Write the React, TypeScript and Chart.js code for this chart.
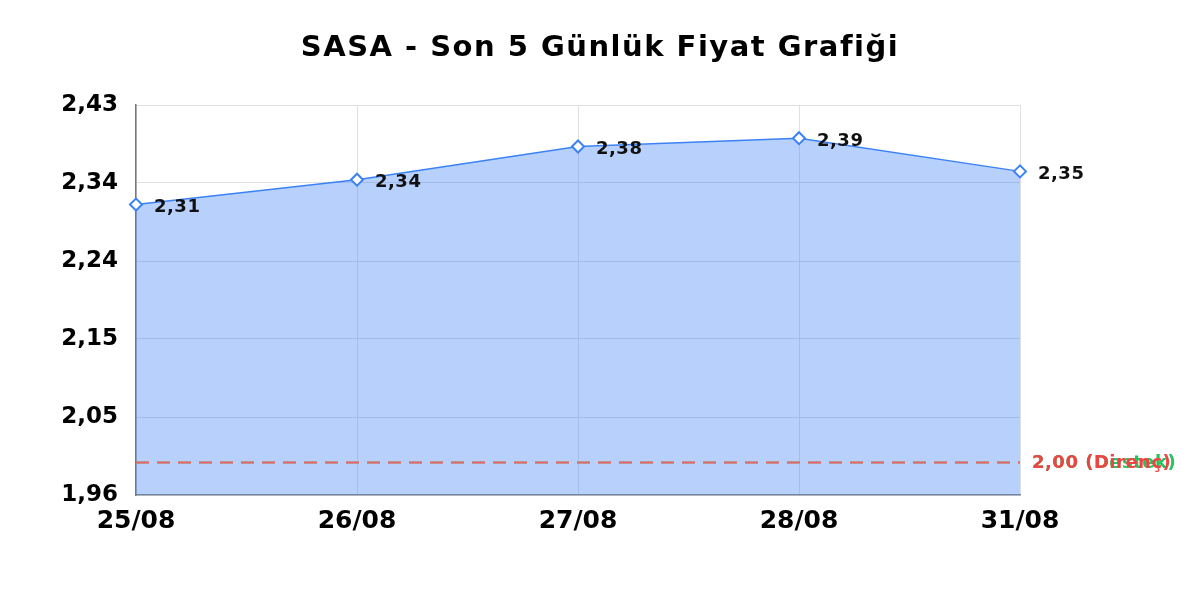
import React, { useRef, useEffect } from 'react';
import { Chart, registerables } from 'chart.js';

Chart.register(...registerables);

// Data
const labels = ['25/08', '26/08', '27/08', '28/08', '31/08'];
const prices = [2.31, 2.34, 2.38, 2.39, 2.35];
const supportLevel = 2.0;
const resistanceLevel = 2.0;
const yMin = 1.96;
const yMax = 2.43;
const titleText = 'SASA - Son 5 Günlük Fiyat Grafiği';

const fmt = (v: number) => v.toFixed(2).replace('.', ',');

const levels = [
    { value: supportLevel, color: '#22c55e', line: '#4cc47a', text: fmt(supportLevel) + ' (Destek)' },
    { value: resistanceLevel, color: '#ef4444', line: '#f0626a', text: fmt(resistanceLevel) + ' (Direnç)' },
];

// title drawn by hand so it can be centred on the whole canvas
const titlePlugin = {
    id: 'titlePlugin',
    afterDraw(chart: any) {
        const { ctx } = chart;
        ctx.save();
        ctx.font = 'bold 29px "DejaVu Sans"';
        (ctx as any).letterSpacing = '1.5px';
        ctx.fillStyle = '#000';
        ctx.textAlign = 'center';
        ctx.textBaseline = 'middle';
        ctx.fillText(titleText, chart.width / 2, 48);
        ctx.restore();
    },
};

// draws the value next to each point
const pointLabels = {
    id: 'pointLabels',
    afterDatasetsDraw(chart: any) {
        const { ctx } = chart;
        const meta = chart.getDatasetMeta(0);
        ctx.save();
        ctx.font = 'bold 18px "DejaVu Sans"';
        (ctx as any).letterSpacing = '0.5px';
        ctx.fillStyle = '#111';
        ctx.textAlign = 'left';
        ctx.textBaseline = 'middle';
        meta.data.forEach((pt: any, i: number) => {
            ctx.fillText(fmt(prices[i]), pt.x + 18, pt.y + 3);
        });
        ctx.restore();
    },
};

// support / resistance lines, drawn over the fill
const levelLines = {
    id: 'levelLines',
    afterDatasetsDraw(chart: any) {
        const { ctx, chartArea } = chart;
        const y = chart.scales.y;
        levels.forEach((l) => {
            const py = Math.round(y.getPixelForValue(l.value)) + 0.5;
            ctx.save();
            ctx.strokeStyle = l.line;
            ctx.lineWidth = 2;
            ctx.setLineDash([13, 8]);
            ctx.beginPath();
            ctx.moveTo(chartArea.left, py);
            ctx.lineTo(chartArea.right, py);
            ctx.stroke();
            ctx.restore();
        });
    },
    afterDraw(chart: any) {
        const { ctx, chartArea } = chart;
        const y = chart.scales.y;
        ctx.save();
        ctx.font = 'bold 18px "DejaVu Sans"';
        (ctx as any).letterSpacing = '0.5px';
        ctx.textAlign = 'left';
        ctx.textBaseline = 'middle';
        levels.forEach((l) => {
            ctx.fillStyle = l.color;
            ctx.fillText(l.text, chartArea.right + 12, y.getPixelForValue(l.value) + 2);
        });
        ctx.restore();
    },
};

const PriceChart: React.FC = () => {
    const chartRef = useRef<HTMLCanvasElement>(null);
    const chartInstance = useRef<Chart | null>(null);

    useEffect(() => {
        if (!chartRef.current) return;
        const ctx = chartRef.current.getContext('2d');
        if (!ctx) return;
        if (chartInstance.current) chartInstance.current.destroy();

        chartInstance.current = new Chart(ctx, {
            type: 'line',
            data: {
                labels,
                datasets: [
                    {
                        label: 'SASA',
                        data: prices,
                        borderColor: '#3b82f6',
                        backgroundColor: 'rgba(59, 130, 246, 0.37)',
                        borderWidth: 1.5,
                        fill: 'start',
                        tension: 0,
                        pointStyle: 'rectRot',
                        pointRadius: 6,
                        pointBorderWidth: 2,
                        pointBackgroundColor: '#fff',
                        pointBorderColor: '#3b82f6',
                    },
                ],
            },
            options: {
                responsive: false,
                animation: false,
                layout: { padding: { left: 10, right: 180, top: 105, bottom: 65 } },
                plugins: {
                    legend: { display: false },
                    tooltip: { enabled: false },
                    title: { display: false },
                },
                scales: {
                    x: {
                        offset: false,
                        grid: { color: '#e0e0e0', drawTicks: false },
                        border: { color: '#888', width: 1.5 },
                        ticks: {
                            color: '#000',
                            padding: 11,
                            maxRotation: 0,
                            font: { family: '"DejaVu Sans"', size: 25, weight: 'bold' },
                        },
                        afterFit: (s: any) => { s.height = 40; },
                    },
                    y: {
                        min: yMin,
                        max: yMax,
                        grid: { color: '#e0e0e0', drawTicks: false },
                        border: { color: '#777', width: 1.5 },
                        ticks: {
                            color: '#000',
                            padding: 18,
                            stepSize: (yMax - yMin) / 5,
                            font: { family: '"DejaVu Sans"', size: 23, weight: 'bold' },
                            callback: (v: any) => fmt(Number(v)),
                        },
                        afterFit: (s: any) => { s.width = 126; },
                    },
                },
            },
            plugins: [levelLines, pointLabels, titlePlugin],
        });

        return () => {
            if (chartInstance.current) {
                chartInstance.current.destroy();
                chartInstance.current = null;
            }
        };
    }, []);

    return (
        <div style={{ position: 'absolute', left: 0, top: 0, width: 1200, height: 600, background: '#fff' }}>
            <canvas ref={chartRef} width={1200} height={600}></canvas>
        </div>
    );
};

export default function App() {
    return <PriceChart />;
}
